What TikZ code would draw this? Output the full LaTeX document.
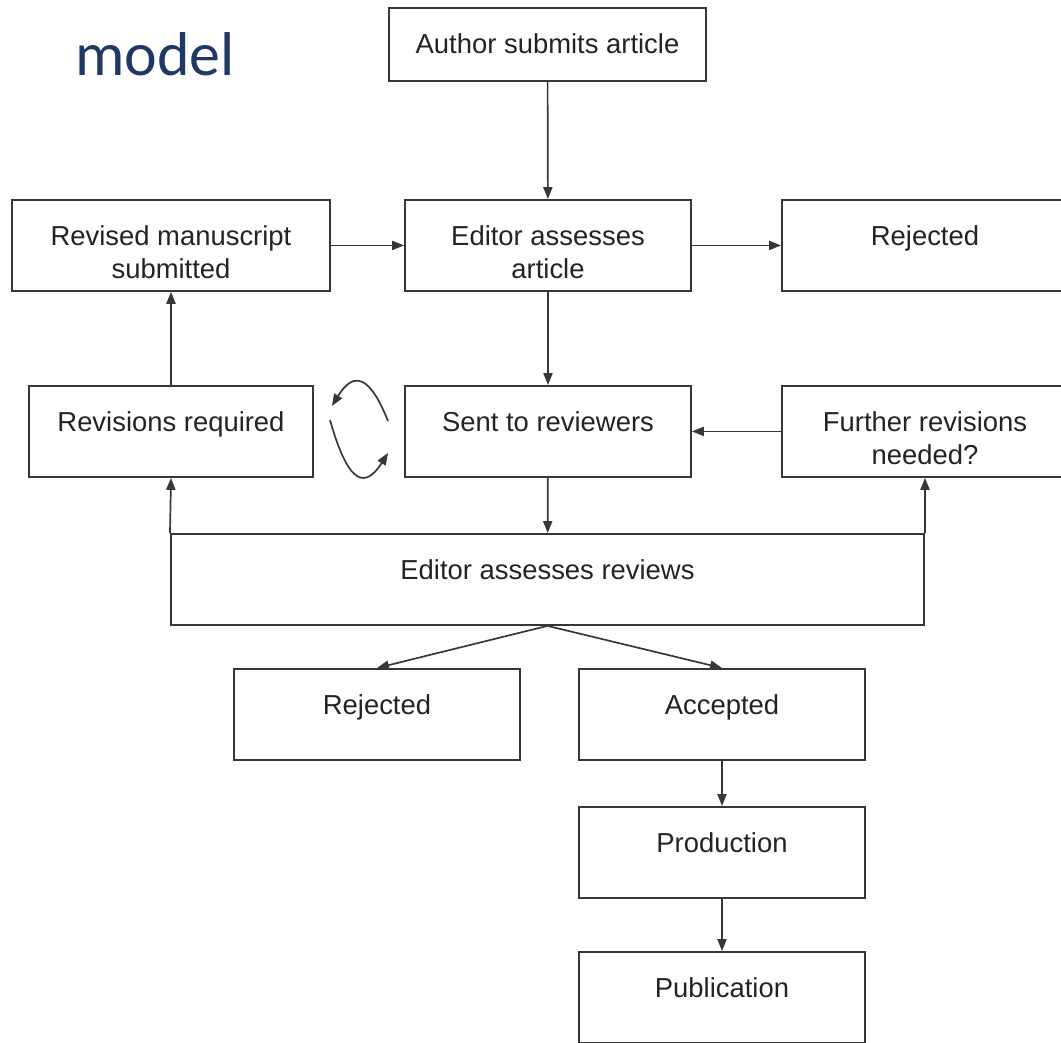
\documentclass[tikz,border=0pt]{standalone}
\usepackage{fontspec}
\usepackage{xcolor}
\usepackage{tikz}
\usetikzlibrary{arrows.meta, positioning}
\newfontfamily\boxfont{Liberation Sans}
\newfontfamily\titlefont{Carlito}
\definecolor{myline}{RGB}{55,55,55}
\definecolor{mytext}{RGB}{35,35,35}
\definecolor{myblue}{RGB}{31,56,100}
\tikzset{
  stage/.style={rectangle, draw=myline, line width=1.3pt, inner sep=0pt,
    minimum width=7.15cm, text height=1.13cm, text depth=1.145cm,
    align=center, text=mytext, anchor=north,
    font=\boxfont\fontsize{19.5}{23.5}\selectfont},
  twoline/.style={text height=1.955cm, text depth=0.32cm},
  arrow/.style={-{Triangle[length=8.5pt, width=6.5pt]}, line width=1.2pt, color=myline}
}

\begin{document}
\begin{tikzpicture}[x=0.025cm, y=0.025cm]
  \useasboundingbox (0,0) rectangle (1061,-1042);
  \clip (0,0) rectangle (1061,-1042);
  % ── Title ─────────────────────────────────────────────────────────────────
  \node[anchor=base west, inner sep=0pt, text=myblue,
    font=\titlefont\fontsize{44}{50}\selectfont] (title) at (75,-75) {model};

  % ── Submission and first assessment ───────────────────────────────────────
  \node[stage, minimum width=7.925cm, text depth=0.695cm] (author) at (547.5,-7) {Author submits article};
  \node[stage, twoline] (edart) at (548,-199) {Editor assesses\\article};
  \node[stage, twoline, minimum width=7.95cm] (revms) at (171,-199) {Revised manuscript\\submitted};
  \node[stage] (rej) at (925,-199) {Rejected};

  % ── Review round ──────────────────────────────────────────────────────────
  \node[stage, minimum width=7.1cm] (revreq) at (171,-385) {Revisions required};
  \node[stage] (sent) at (548,-385) {Sent to reviewers};
  \node[stage, twoline] (further) at (925,-385) {Further revisions\\needed?};
  \node[stage, minimum width=18.825cm] (edrev) at (547.5,-533) {Editor assesses reviews};

  % ── Outcome ───────────────────────────────────────────────────────────────
  \node[stage] (rej2) at (377,-668) {Rejected};
  \node[stage] (acc) at (722,-668) {Accepted};
  \node[stage] (prod) at (722,-806) {Production};
  \node[stage] (pub) at (722,-951) {Publication};

  % ── Connectors ────────────────────────────────────────────────────────────
  \draw[arrow] (author) -- (edart);
  \draw[arrow] (revms) -- (edart);
  \draw[arrow] (edart) -- (rej);
  \draw[arrow] (edart) -- (sent);
  \draw[arrow] (revreq) -- (revms);
  \draw[arrow] (further.west) -- (sent.east);
  \draw[arrow] (sent) -- (edrev);
  \draw[arrow] (edrev.north west) -- (revreq.south);
  \draw[arrow] (edrev.north east) -- (further.south);
  \draw[arrow] (edrev.south) -- (rej2.north);
  \draw[arrow] (edrev.south) -- (acc.north);
  \draw[arrow] (acc) -- (prod);
  \draw[arrow] (prod) -- (pub);

  % Revision cycle — two free curved arrows between the boxes
  \coordinate (cycA) at (388,-421);
  \coordinate (cycB) at (332,-406);
  \coordinate (cycC) at (330,-420);
  \coordinate (cycD) at (388,-453);
  \draw[arrow] (cycA) .. controls (370,-376) and (354,-370) .. (cycB);
  \draw[arrow] (cycC) .. controls (346,-476) and (362,-494) .. (cycD);
\end{tikzpicture}
\end{document}
